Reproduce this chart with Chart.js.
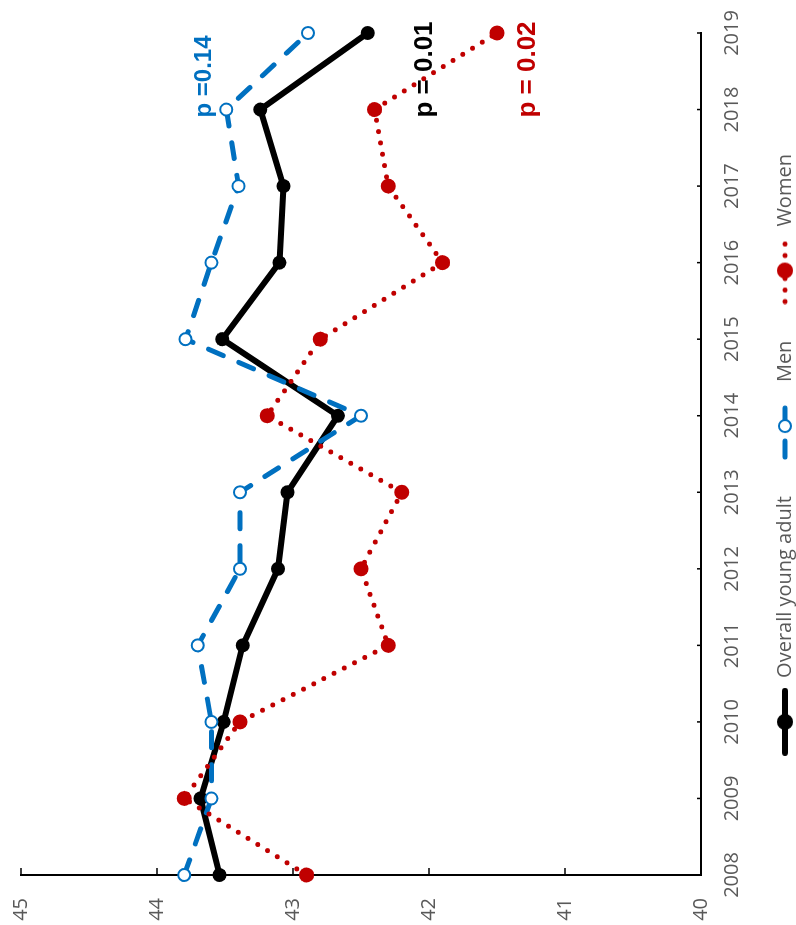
<!DOCTYPE html>
<html>
<head>
<meta charset="utf-8">
<script src="https://cdn.jsdelivr.net/npm/chart.js@4/dist/chart.umd.min.js"></script>
<style>
  html, body { margin: 0; padding: 0; overflow: hidden; background: #fff; }
  /* the chart is drawn upright and then turned a quarter turn to the left */
  #wrap {
    position: absolute; left: 0; top: 0;
    width: 925px; height: 796px;
    transform-origin: 0 0;
    transform: translateY(925px) rotate(-90deg);
  }
</style>
</head>
<body>
<div id="wrap"><canvas id="myChart" width="925" height="796"></canvas></div>
<script>
const years = ['2008', '2009', '2010', '2011', '2012', '2013', '2014', '2015', '2016', '2017', '2018', '2019']
const overall = [43.54, 43.68, 43.51, 43.37, 43.11, 43.04, 42.67, 43.52, 43.10, 43.07, 43.24, 42.45]
const men = [43.80, 43.60, 43.60, 43.70, 43.39, 43.39, 42.50, 43.79, 43.60, 43.40, 43.49, 42.89]
const women = [42.90, 43.80, 43.39, 42.30, 42.50, 42.20, 43.19, 42.80, 41.90, 42.30, 42.40, 41.50]
const yTicks = [40, 41, 42, 43, 44, 45]

const pLabels = ['p =0.14', 'p = 0.01', 'p = 0.02']
const pValues = [43.60, 41.98, 41.22]

const BLACK = '#000000', BLUE = '#0070C0', RED = '#C00000', GREY = '#595959'

/* legend icons: a short line with the marker in the middle */
function legendIcon(color, width, dash, fill, radius) {
  const c = document.createElement('canvas')
  c.width = 68; c.height = 18
  const g = c.getContext('2d')
  g.strokeStyle = color
  g.lineWidth = width
  g.lineCap = 'round'
  g.setLineDash(dash)
  g.beginPath(); g.moveTo(3, 9); g.lineTo(65, 9); g.stroke()
  g.setLineDash([])
  g.beginPath(); g.arc(34, 9, radius, 0, Math.PI * 2)
  g.fillStyle = fill; g.fill()
  g.lineWidth = 2; g.stroke()
  return c
}
const icons = [
  legendIcon(BLACK, 6, [], BLACK, 7),
  legendIcon(BLUE, 5, [16, 17], '#fff', 6),
  legendIcon(RED, 5, [0, 11.5], RED, 7)
]

const innerTicks = {
  id: 'innerTicks',
  beforeDatasetsDraw(chart) {
    const {ctx, chartArea: a, scales: {x, y}} = chart
    ctx.save()
    ctx.strokeStyle = BLACK
    ctx.lineWidth = 1.5
    ctx.beginPath()
    y.ticks.forEach(t => {
      const py = y.getPixelForValue(t.value)
      ctx.moveTo(a.left, py); ctx.lineTo(a.left + 7, py)
    })
    x.ticks.forEach((t, i) => {
      const px = x.getPixelForTick(i)
      ctx.moveTo(px, a.bottom); ctx.lineTo(px, a.bottom - 4)
    })
    ctx.stroke()
    ctx.restore()
  }
}

const pText = {
  id: 'pText',
  afterDatasetsDraw(chart) {
    const {ctx, scales: {x, y}} = chart
    const colors = [BLUE, BLACK, RED]
    ctx.save()
    ctx.textAlign = 'left'
    ctx.textBaseline = 'alphabetic'
    pLabels.forEach((txt, i) => {
      ctx.font = 'bold ' + (i === 0 ? 24 : 26) + 'px "Liberation Sans", Arial, sans-serif'
      ctx.fillStyle = colors[i]
      ctx.fillText(txt, x.getPixelForValue(10) - 8, y.getPixelForValue(pValues[i]))
    })
    ctx.restore()
  }
}

// legend sits a little right of the canvas centre, like the original
const legendShift = {
  id: 'legendShift',
  afterLayout(chart) {
    chart.legend.left += 24
    chart.legend.right += 24
  }
}

const ctx = document.getElementById('myChart').getContext('2d')
const myChart = new Chart(ctx, {
  type: 'line',
  data: {
    labels: years,
    datasets: [{
      label: 'Overall young adult',
      data: overall,
      borderColor: BLACK,
      backgroundColor: BLACK,
      borderWidth: 6,
      pointRadius: 7,
      pointBorderWidth: 0,
      pointBackgroundColor: BLACK,
      borderJoinStyle: 'round',
      order: 3,
      clip: false
    }, {
      label: 'Men',
      data: men,
      borderColor: BLUE,
      borderWidth: 5,
      borderDash: [16, 17],
      borderCapStyle: 'round',
      pointRadius: 6,
      pointBorderWidth: 2,
      pointBorderColor: BLUE,
      pointBackgroundColor: '#ffffff',
      order: 2,
      clip: false
    }, {
      label: 'Women',
      data: women,
      borderColor: RED,
      borderWidth: 5,
      borderDash: [0, 11.5],
      borderCapStyle: 'round',
      pointRadius: 7.5,
      pointBorderWidth: 0,
      pointBackgroundColor: RED,
      order: 1,
      clip: false
    }]
  },
  options: {
    responsive: false,
    animation: false,
    devicePixelRatio: 1,
    layout: { padding: { top: 21, right: 33, left: 0, bottom: -9 } },
    scales: {
      x: {
        grid: { display: false, drawTicks: false, tickLength: 0 },
        border: { display: true, color: BLACK, width: 2 },
        ticks: { color: GREY, padding: 19, maxRotation: 0, autoSkip: false,
          font: { family: '"Open Sans"', size: 20 } },
        afterFit: s => { s.height = 38; s.paddingLeft = 0; s.paddingRight = 0 }
      },
      y: {
        min: yTicks[0],
        max: yTicks[yTicks.length - 1],
        afterBuildTicks: s => { s.ticks = yTicks.map(v => ({ value: v })) },
        grid: { display: false, drawTicks: false, tickLength: 0 },
        border: { display: true, color: BLACK, width: 2 },
        ticks: { color: GREY, padding: 23,
          font: { family: '"Open Sans"', size: 20 } },
        afterFit: s => { s.width = 50; s.paddingTop = 0; s.paddingBottom = 0 }
      }
    },
    plugins: {
      tooltip: { enabled: false },
      legend: {
        position: 'bottom',
        labels: {
          usePointStyle: true,
          pointStyleWidth: 68,
          padding: 36,
          color: GREY,
          font: { family: '"Open Sans"', size: 20 },
          sort: (a, b) => a.datasetIndex - b.datasetIndex,
          generateLabels: chart =>
            Chart.defaults.plugins.legend.labels.generateLabels(chart).map(item => {
              item.pointStyle = icons[item.datasetIndex]
              item.rotation = 0
              return item
            })
        }
      }
    }
  },
  plugins: [innerTicks, pText, legendShift]
})
</script>
</body>
</html>
